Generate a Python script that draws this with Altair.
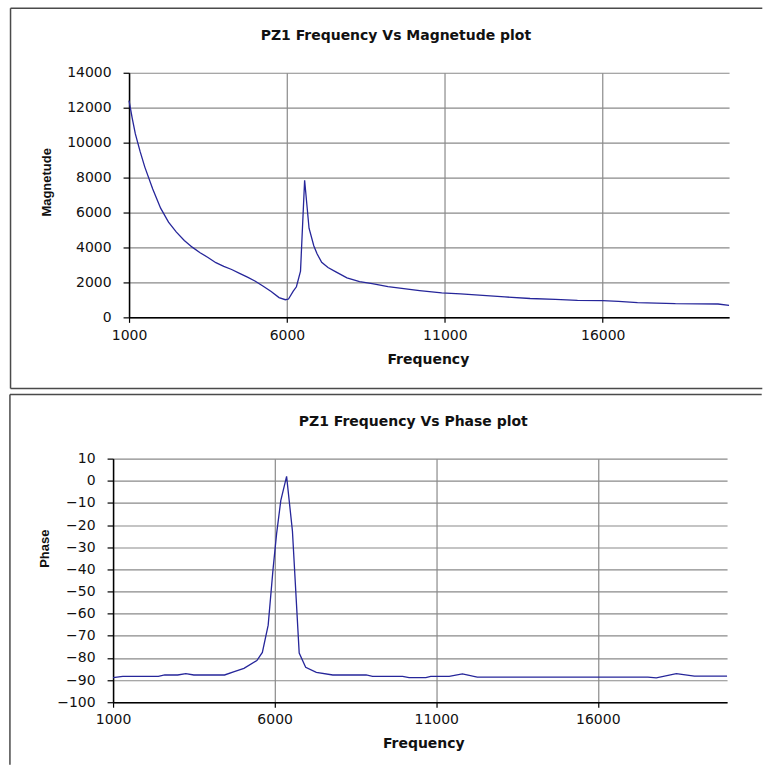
import altair as alt
import pandas as pd

# ---------------- data ----------------
mag_freq = [1000, 1100, 1200, 1350, 1500, 1750, 2000, 2250, 2500, 2750, 3000, 3250,
            3500, 3750, 4000, 4250, 4500, 4750, 5000, 5250, 5500, 5750, 5950, 6050,
            6200, 6300, 6430, 6560, 6700, 6850, 6950, 7100, 7300, 7550, 7900, 8300,
            8700, 9200, 9700, 10200, 10900, 11500, 12200, 12900, 13700, 14500, 15200,
            16000, 16500, 17100, 17700, 18300, 19000, 19650, 20000]
mag_vals = [12400, 11400, 10500, 9500, 8600, 7350, 6250, 5450, 4880, 4400, 4020, 3700,
            3430, 3130, 2920, 2740, 2520, 2300, 2070, 1780, 1480, 1130, 1010, 1050,
            1500, 1750, 2650, 7850, 5100, 4100, 3650, 3150, 2850, 2600, 2260, 2050,
            1930, 1760, 1640, 1530, 1400, 1340, 1260, 1170, 1080, 1030, 975,
            960, 920, 845, 820, 785, 775, 765, 690]

phase_freq = [1000, 1300, 2400, 2600, 3000, 3250, 3500, 4450, 4750, 5050, 5450, 5620,
              5800, 5950, 6060, 6190, 6370, 6550, 6760, 6960, 7290, 7800, 8830, 9030,
              9960, 10160, 10680, 10830, 11400, 11810, 12270, 17550, 17810, 18430,
              18990, 20000]
phase_vals = [-88.9, -88.3, -88.3, -87.7, -87.7, -87.1, -87.7, -87.7, -86.2, -84.7,
              -81.2, -77.5, -65.2, -40.0, -24.0, -9.0, 2.0, -22.6, -77.8, -84.2,
              -86.5, -87.7, -87.7, -88.3, -88.3, -88.9, -88.9, -88.3, -88.3, -87.2,
              -88.7, -88.7, -89.0, -87.1, -88.2, -88.2]

x_ticks = [1000, 6000, 11000, 16000]
mag_ticks = [0, 2000, 4000, 6000, 8000, 10000, 12000, 14000]
phase_ticks = [10, 0, -10, -20, -30, -40, -50, -60, -70, -80, -90, -100]

title_top = "PZ1 Frequency  Vs  Magnetude  plot"
title_bottom = "PZ1 Frequency  Vs  Phase  plot"

# ---------------- style ----------------
LINE = "#26269a"
GRID = "#8a8a8a"
BORDER = "#4a4a4a"
FONT = "DejaVu Sans"
YFONT = "Liberation Sans"
TXT = "#111111"

mag_df = pd.DataFrame({"Frequency": mag_freq, "Magnetude": mag_vals})
phase_df = pd.DataFrame({"Frequency": phase_freq, "Phase": phase_vals})
one = pd.DataFrame({"k": [0]})


def x_axis(title_x, title_y, pad):
    return alt.Axis(values=x_ticks, format="d", grid=True, gridColor=GRID, gridWidth=1.2,
                    domainColor="black", domainWidth=1.5, tickColor="black", tickSize=5,
                    tickWidth=1.2, labelFont=FONT, labelFontSize=14, labelColor=TXT,
                    labelPadding=pad, labelFlush=False, labelOverlap=False,
                    title="Frequency", titleFont=FONT, titleFontSize=14,
                    titleFontWeight="bold", titleColor=TXT, titleX=title_x, titleY=title_y,
                    titleBaseline="middle", titleAlign="center")


def y_axis(values, title, title_x, title_y):
    return alt.Axis(values=values, format="d", grid=True, gridColor=GRID, gridWidth=1.2,
                    domainColor="black", domainWidth=1.5, tickColor="black", tickSize=6,
                    tickWidth=1.2, labelFont=FONT, labelFontSize=14, labelColor=TXT,
                    labelPadding=12, labelOverlap=False,
                    title=title, titleFont=YFONT, titleFontSize=13, titleFontWeight="bold",
                    titleColor=TXT, titleAngle=270, titleX=title_x, titleY=title_y,
                    titleBaseline="middle", titleAlign="center")


def frame(left, top, right, bottom, closed):
    rules = [
        alt.Chart(one).mark_rule(color=BORDER, strokeWidth=1.5).encode(
            x=alt.value(left), y=alt.value(top), y2=alt.value(bottom)),
        alt.Chart(one).mark_rule(color=BORDER, strokeWidth=1.5).encode(
            x=alt.value(left), x2=alt.value(right), y=alt.value(top)),
    ]
    if closed:
        rules.append(alt.Chart(one).mark_rule(color=BORDER, strokeWidth=1.5).encode(
            x=alt.value(left), x2=alt.value(right), y=alt.value(bottom)))
    return rules


def title_mark(text, x, y):
    return alt.Chart(pd.DataFrame({"t": [text]})).mark_text(
        font=FONT, fontSize=14, fontWeight="bold", color=TXT, align="center",
        baseline="alphabetic").encode(text="t:N", x=alt.value(x), y=alt.value(y))


# ---------------- top panel ----------------
top_line = alt.Chart(mag_df).mark_line(color=LINE, strokeWidth=1.3).encode(
    x=alt.X("Frequency:Q", scale=alt.Scale(domain=[1000, 20000], nice=False, zero=False),
            axis=x_axis(299.3, 42.3, 6)),
    y=alt.Y("Magnetude:Q", scale=alt.Scale(domain=[0, 14000], nice=False),
            axis=y_axis(mag_ticks, "Magnetude", -82.7, 109.3)),
)
top = alt.layer(
    *frame(-118.7, -64.7, 634.3, 316.3, True),
    title_mark(title_top, 267.3, -32.4),
    top_line,
).properties(width=601, height=245)

spacer = alt.Chart(one).mark_point(opacity=0).properties(width=15.4, height=245)
top_row = alt.hconcat(spacer, top, spacing=0, bounds="flush")

# ---------------- bottom panel ----------------
bottom_line = alt.Chart(phase_df).mark_line(color=LINE, strokeWidth=1.3).encode(
    x=alt.X("Frequency:Q", scale=alt.Scale(domain=[1000, 20000], nice=False, zero=False),
            axis=x_axis(310.7, 41.7, 5)),
    y=alt.Y("Phase:Q", scale=alt.Scale(domain=[-100, 10], nice=False, zero=False),
            axis=y_axis(phase_ticks, "Phase", -68.3, 89.7)),
)
bottom = alt.layer(
    *frame(-103.3, -64.3, 649.7, 306.7, False),
    title_mark(title_bottom, 300.7, -32.6),
    bottom_line,
).properties(width=615, height=244)

chart = alt.vconcat(top_row, bottom, spacing=386.5, bounds="flush").properties(
    padding={"left": 8.25, "top": 6.25, "right": 0, "bottom": 0}
).configure_view(stroke=None)

chart.save("out.html", embed_options={"renderer": "svg", "actions": False})
